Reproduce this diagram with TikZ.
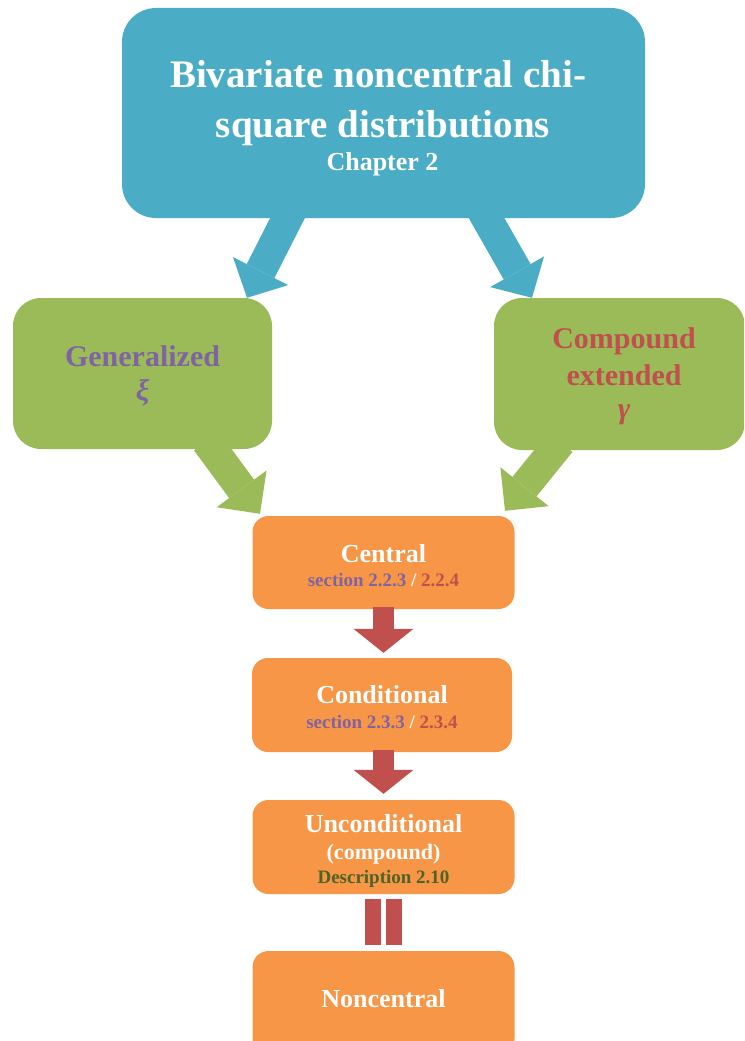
\documentclass[tikz,border=0pt]{standalone}
\usepackage{fontspec}
\setmainfont{Liberation Serif}
\usetikzlibrary{arrows.meta}

\definecolor{boxblue}{HTML}{4BACC6}
\definecolor{boxgreen}{HTML}{9BBB59}
\definecolor{boxorange}{HTML}{F79646}
\definecolor{arrowred}{HTML}{C0504D}
\definecolor{txtpurple}{HTML}{8064A2}
\definecolor{txtred}{HTML}{C0504D}
\definecolor{txtgreen}{HTML}{4F6228}

\tikzset{
  panel/.style={rectangle, inner sep=0pt, rounded corners=#1},
  txt/.style={anchor=base, inner sep=0pt, font=\bfseries},
  bluearrow/.style={boxblue, line width=31pt, -{Triangle[width=62pt, length=30pt, line width=0pt]}},
  greenarrow/.style={boxgreen, line width=31pt, -{Triangle[width=62pt, length=31pt, line width=0pt]}},
  redarrow/.style={arrowred, line width=21pt, -{Triangle[width=60pt, length=24pt, line width=0pt]}},
  eqbar/.style={arrowred, line width=16pt}
}

\begin{document}
\begin{tikzpicture}[x=1pt, y=-1pt]
  \useasboundingbox (0,0) rectangle (744,1041);
  \clip (0,0) rectangle (744,1041);

  % boxes
  \node[panel=34pt, fill=boxblue, minimum width=523pt, minimum height=210pt] (title) at (383.5,113) {};
  \node[panel=28pt, fill=boxgreen, minimum width=259pt, minimum height=151pt] (gen) at (142.5,373.5) {};
  \node[panel=28pt, fill=boxgreen, minimum width=251pt, minimum height=152pt] (comp) at (619.5,374) {};
  \node[panel=16pt, fill=boxorange, minimum width=262pt, minimum height=93pt] (central) at (383.5,562.5) {};
  \node[panel=16pt, fill=boxorange, minimum width=260pt, minimum height=94pt] (cond) at (382,705) {};
  \node[panel=16pt, fill=boxorange, minimum width=262pt, minimum height=94pt] (uncond) at (383.5,847) {};
  \node[panel=16pt, fill=boxorange, minimum width=262pt, minimum height=104pt] (noncentral) at (383.5,1003) {};

  % arrows
  \draw[bluearrow] ([xshift=-91.5pt, yshift=9pt]title.south) -- ([xshift=104.5pt]gen.north);
  \draw[bluearrow] ([xshift=98pt, yshift=9pt]title.south) -- ([xshift=-87.5pt]comp.north);
  \draw[greenarrow] ([xshift=64pt, yshift=8pt]gen.south) -- ([xshift=-123.5pt, yshift=2pt]central.north);
  \draw[greenarrow] ([xshift=-59.1pt, yshift=8pt]comp.south) -- ([xshift=121.5pt, yshift=5pt]central.north);
  \draw[redarrow] ([yshift=2pt]central.south) -- ([xshift=1.5pt, yshift=5pt]cond.north);
  \draw[redarrow] ([xshift=1.5pt, yshift=2pt]cond.south) -- ([yshift=6pt]uncond.north);
  \draw[eqbar] ([xshift=-11pt, yshift=-5pt]uncond.south) -- ([xshift=-11pt, yshift=6pt]noncentral.north);
  \draw[eqbar] ([xshift=10.5pt, yshift=-5pt]uncond.south) -- ([xshift=10.5pt, yshift=6pt]noncentral.north);

  % texts
  \node[txt, white, font=\bfseries\fontsize{39}{46}\selectfont] (t1) at (378,88) {Bivariate noncentral chi-};
  \node[txt, white, font=\bfseries\fontsize{39}{46}\selectfont] (t2) at (383,137) {square distributions};
  \node[txt, white, font=\bfseries\fontsize{26}{30}\selectfont] (t3) at (382.5,170) {Chapter 2};

  \node[txt, txtpurple, font=\bfseries\fontsize{30}{36}\selectfont] (g1) at (142.5,366) {Generalized};
  \node[txt, txtpurple, font=\bfseries\itshape\fontsize{30}{36}\selectfont] (g2) at (142.5,400) {ξ};

  \node[txt, txtred, font=\bfseries\fontsize{30}{36}\selectfont] (c1) at (624,348) {Compound};
  \node[txt, txtred, font=\bfseries\fontsize{30}{36}\selectfont] (c2) at (624,385) {extended};
  \node[txt, txtred, font=\bfseries\itshape\fontsize{30}{36}\selectfont] (c3) at (624,418) {γ};

  \node[txt, white, font=\bfseries\fontsize{26}{30}\selectfont] (ce1) at (383.5,562) {Central};
  \node[txt, font=\bfseries\fontsize{19}{22}\selectfont] (ce2) at (383.5,586)
    {\textcolor{txtpurple}{section 2.2.3} \textcolor{white}{/} \textcolor{txtred}{2.2.4}};

  \node[txt, white, font=\bfseries\fontsize{26}{30}\selectfont] (co1) at (382,703) {Conditional};
  \node[txt, font=\bfseries\fontsize{19}{22}\selectfont] (co2) at (382,728)
    {\textcolor{txtpurple}{section 2.3.3} \textcolor{white}{/} \textcolor{txtred}{2.3.4}};

  \node[txt, white, font=\bfseries\fontsize{26}{30}\selectfont] (u1) at (383.5,832) {Unconditional};
  \node[txt, white, font=\bfseries\fontsize{22}{26}\selectfont] (u2) at (383.5,859) {(compound)};
  \node[txt, txtgreen, font=\bfseries\fontsize{19}{22}\selectfont] (u3) at (383.5,883) {Description 2.10};

  \node[txt, white, font=\bfseries\fontsize{26}{30}\selectfont] (n1) at (383.5,1007) {Noncentral};
\end{tikzpicture}
\end{document}
